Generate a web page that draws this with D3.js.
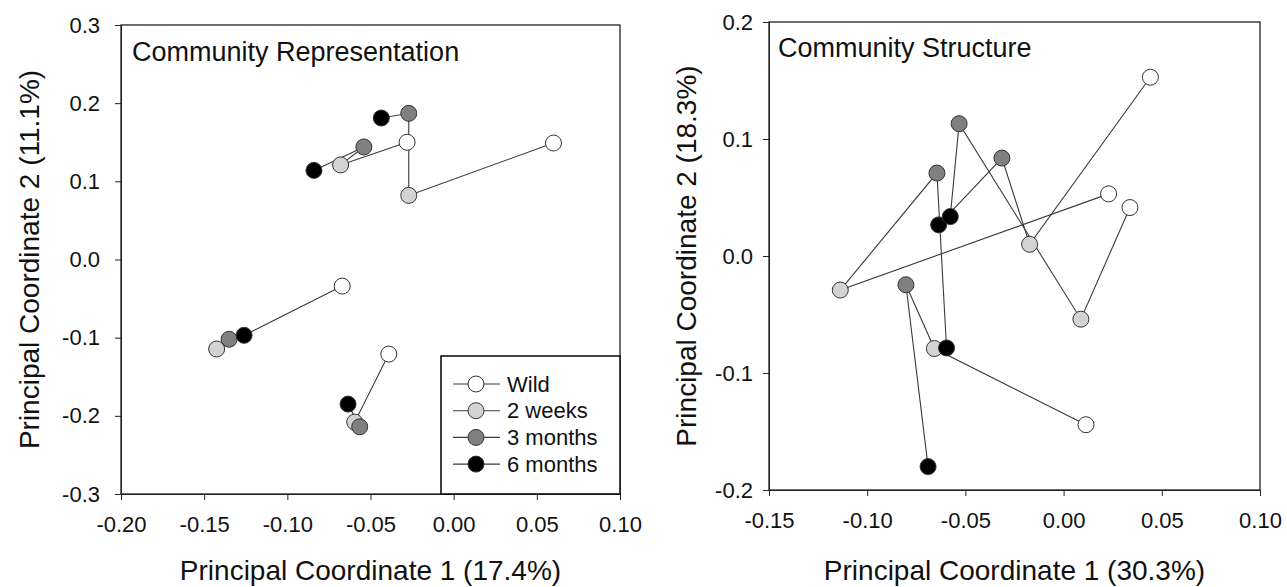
<!DOCTYPE html>
<html><head><meta charset="utf-8">
<script src="https://cdn.jsdelivr.net/npm/d3@7"></script>
<style>body{margin:0;background:#fff} svg text{font-family:"Liberation Sans",Arial,sans-serif}</style>
</head><body><svg id="c" width="1287" height="587"></svg>
<script>
// ---------- series ----------
const seriesNames = ["Wild", "2 weeks", "3 months", "6 months"];
const seriesFill = ["#ffffff", "#d3d3d3", "#808080", "#000000"];

// Panel 1: Community Representation (index = subject)
const repWildX = [-0.028, 0.060, -0.067, -0.039];
const repWildY = [0.150, 0.149, -0.034, -0.121];
const rep2wX = [-0.068, -0.027, -0.1425, -0.0595];
const rep2wY = [0.121, 0.082, -0.1145, -0.208];
const rep3mX = [-0.054, -0.027, -0.135, -0.0565];
const rep3mY = [0.144, 0.187, -0.102, -0.214];
const rep6mX = [-0.084, -0.0435, -0.126, -0.0635];
const rep6mY = [0.114, 0.181, -0.097, -0.185];
const repXTicks = [-0.20, -0.15, -0.10, -0.05, 0.00, 0.05, 0.10];
const repYTicks = [-0.3, -0.2, -0.1, 0.0, 0.1, 0.2, 0.3];

// Panel 2: Community Structure
const strWildX = [0.0442, 0.0338, 0.0229, 0.0114];
const strWildY = [0.1528, 0.0414, 0.0531, -0.1442];
const str2wX = [-0.0173, 0.0088, -0.1137, -0.0658];
const str2wY = [0.010, -0.054, -0.0291, -0.0791];
const str3mX = [-0.0314, -0.0532, -0.0645, -0.0803];
const str3mY = [0.0837, 0.1131, 0.0709, -0.0246];
const str6mX = [-0.0636, -0.0577, -0.0596, -0.069];
const str6mY = [0.0266, 0.0337, -0.0786, -0.180];
const strXTicks = [-0.15, -0.10, -0.05, 0.00, 0.05, 0.10];
const strYTicks = [-0.2, -0.1, 0.0, 0.1, 0.2];

const FONT = '"Liberation Sans", Arial, sans-serif';
const svg = d3.select("#c");

const panels = [
  {title: "Community Representation", xLabel: "Principal Coordinate 1 (17.4%)", yLabel: "Principal Coordinate 2 (11.1%)",
   X: [repWildX, rep2wX, rep3mX, rep6mX], Y: [repWildY, rep2wY, rep3mY, rep6mY],
   xt: repXTicks, yt: repYTicks, dx: 2, dy: 1,
   L: 121, R: 620, T: 25, B: 494, yTitleX: 39, yPad: 15, titleDX: 11, titleY: 61, legend: true},
  {title: "Community Structure", xLabel: "Principal Coordinate 1 (30.3%)", yLabel: "Principal Coordinate 2 (18.3%)",
   X: [strWildX, str2wX, str3mX, str6mX], Y: [strWildY, str2wY, str3mY, str6mY],
   xt: strXTicks, yt: strYTicks, dx: 2, dy: 1,
   L: 769, R: 1260, T: 22, B: 490, yTitleX: 696, yPad: 10, titleDX: 9, titleY: 57, legend: false}
];

panels.forEach(p => {
  const x = d3.scaleLinear().domain([p.xt[0], p.xt[p.xt.length - 1]]).range([p.L, p.R]);
  const y = d3.scaleLinear().domain([p.yt[0], p.yt[p.yt.length - 1]]).range([p.B, p.T]);
  const g = svg.append("g");

  const ax = g.append("g").attr("transform", `translate(0,${p.B})`)
    .call(d3.axisBottom(x).tickValues(p.xt).tickFormat(d => d.toFixed(p.dx)).tickSizeOuter(0).tickSize(6).tickPadding(16));
  const ay = g.append("g").attr("transform", `translate(${p.L},0)`)
    .call(d3.axisLeft(y).tickValues(p.yt).tickFormat(d => d.toFixed(p.dy)).tickSizeOuter(0).tickSize(6).tickPadding(p.yPad));
  [ax, ay].forEach(a => {
    a.attr("font-family", FONT).attr("font-size", 22);
    a.selectAll("line").attr("stroke", "#222").attr("stroke-width", 1);
    a.select(".domain").attr("stroke", "#222");
    a.selectAll("text").attr("fill", "#111");
  });

  g.append("rect").attr("x", p.L).attr("y", p.T).attr("width", p.R - p.L).attr("height", p.B - p.T)
    .attr("fill", "none").attr("stroke", "#222").attr("stroke-width", 1.3);

  // subject trajectories
  const line = d3.line().x(d => x(d[0])).y(d => y(d[1]));
  const nSub = p.X[0].length;
  for (let i = 0; i < nSub; i++) {
    const pts = p.X.map((xs, s) => [xs[i], p.Y[s][i]]);
    g.append("path").attr("d", line(pts)).attr("fill", "none").attr("stroke", "#3a3a3a").attr("stroke-width", 1.1);
  }
  // points
  p.X.forEach((xs, s) => {
    g.selectAll(null).data(xs.map((v, i) => [v, p.Y[s][i]])).enter().append("circle")
      .attr("cx", d => x(d[0])).attr("cy", d => y(d[1])).attr("r", 8)
      .attr("fill", seriesFill[s]).attr("stroke", "#333").attr("stroke-width", 1);
  });

  g.append("text").attr("x", p.L + p.titleDX).attr("y", p.titleY).attr("font-size", 27).attr("fill", "#111").text(p.title);
  g.append("text").attr("x", (p.L + p.R) / 2).attr("y", 580).attr("text-anchor", "middle").attr("font-size", 28).attr("fill", "#111").text(p.xLabel);
  g.append("text").attr("transform", `translate(${p.yTitleX},${(p.T + p.B) / 2}) rotate(-90)`).attr("text-anchor", "middle")
    .attr("font-size", 28).attr("fill", "#111").text(p.yLabel);

  if (p.legend) {
    const bx = p.R - 179, by = p.B - 138;
    const lg = g.append("g");
    lg.append("rect").attr("x", bx).attr("y", by).attr("width", p.R - bx).attr("height", p.B - by)
      .attr("fill", "#fff").attr("stroke", "#111").attr("stroke-width", 1.6);
    seriesNames.forEach((nm, s) => {
      const ry = by + 28 + s * 26.7;
      lg.append("line").attr("x1", bx + 12).attr("x2", bx + 59).attr("y1", ry).attr("y2", ry).attr("stroke", "#3a3a3a").attr("stroke-width", 1.1);
      lg.append("circle").attr("cx", bx + 35).attr("cy", ry).attr("r", 8).attr("fill", seriesFill[s]).attr("stroke", "#333");
      lg.append("text").attr("x", bx + 66).attr("y", ry).attr("dy", "0.35em").attr("font-size", 22).attr("fill", "#111").text(nm);
    });
  }
});
</script></body></html>
